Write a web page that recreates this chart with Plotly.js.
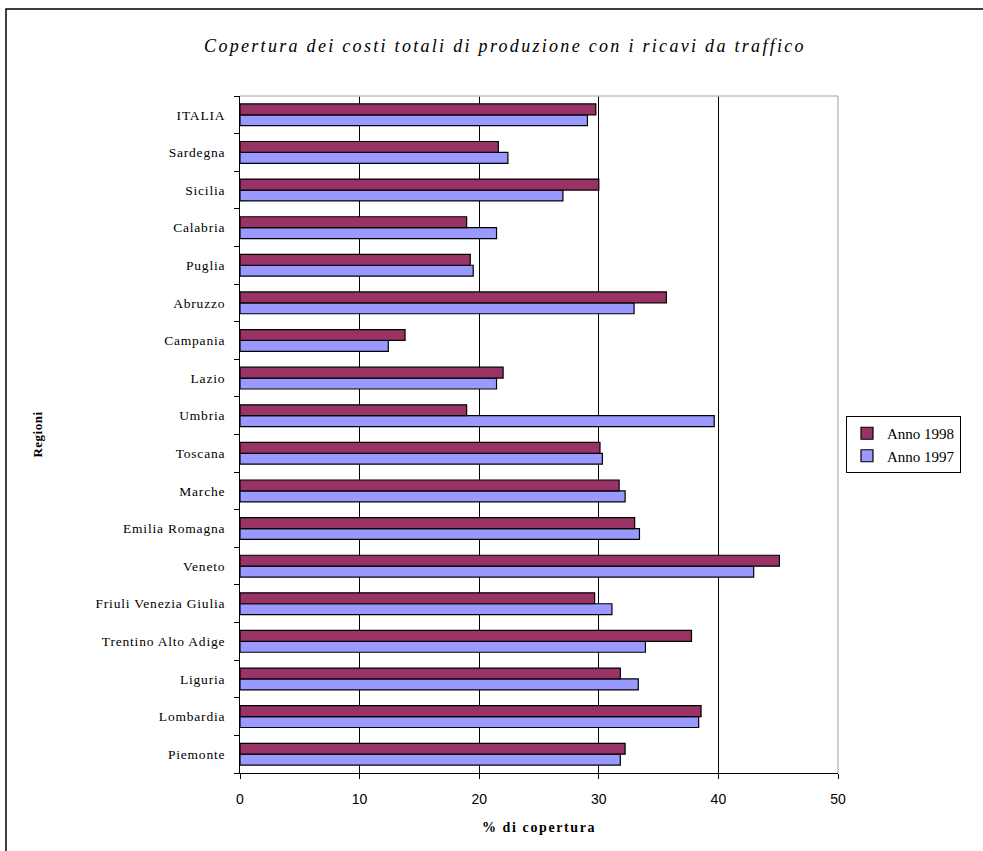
<!DOCTYPE html>
<html>
<head>
<meta charset="utf-8">
<script src="https://cdn.plot.ly/plotly-3.0.1.min.js"></script>
<style>
  body { margin: 0; background: #fff; }
  #chart { width: 983px; height: 851px; }
  #chart .gtitle { letter-spacing: 2.3px; }
  #chart .ytick text { letter-spacing: 0.8px; }
  #chart .xtitle { letter-spacing: 1.6px; }
  #chart .ytitle { letter-spacing: 0.5px; }
</style>
</head>
<body>
<div id="chart"></div>
<script>
// Categories from bottom to top
const regions = [
  "Piemonte", "Lombardia", "Liguria", "Trentino Alto Adige", "Friuli Venezia Giulia",
  "Veneto", "Emilia Romagna", "Marche", "Toscana", "Umbria", "Lazio", "Campania",
  "Abruzzo", "Puglia", "Calabria", "Sicilia", "Sardegna", "ITALIA"
];
const anno1997 = [
  31.8, 38.35, 33.3, 33.9, 31.1,
  42.95, 33.4, 32.2, 30.3, 39.65, 21.45, 12.4,
  32.95, 19.5, 21.45, 27.0, 22.4, 29.05
];
const anno1998 = [
  32.2, 38.55, 31.8, 37.75, 29.65,
  45.1, 33.0, 31.7, 30.1, 18.95, 22.0, 13.8,
  35.65, 19.25, 18.95, 30.0, 21.6, 29.75
];
const xTicks = [0, 10, 20, 30, 40, 50];

const serif = "Liberation Serif, Times New Roman, serif";
const sans = "Liberation Sans, Arial, sans-serif";

const traces = [
  {
    type: "bar", orientation: "h", name: "Anno 1997",
    y: regions, x: anno1997,
    marker: { color: "#9999FF", line: { color: "#000000", width: 1.2 } },
    hoverinfo: "x+y"
  },
  {
    type: "bar", orientation: "h", name: "Anno 1998",
    y: regions, x: anno1998,
    marker: { color: "#993366", line: { color: "#000000", width: 1.2 } },
    hoverinfo: "x+y"
  }
];

function px2x(px) { return (px - 240) / 598; }
function py2y(py) { return (773 - py) / 677; }

const layout = {
  width: 983, height: 851,
  margin: { l: 240, r: 145, t: 96, b: 78, autoexpand: false },
  paper_bgcolor: "#ffffff", plot_bgcolor: "#ffffff",
  barmode: "group", bargap: 0.42, bargroupgap: 0,
  showlegend: true,
  title: {
    text: "Copertura dei costi totali di produzione con i ricavi da traffico",
    font: { family: serif, size: 18, color: "#000", style: "italic" },
    xref: "container", x: 505 / 983, xanchor: "center",
    yref: "container", y: 1 - 46 / 851, yanchor: "middle"
  },
  xaxis: {
    range: [0, 50], tickvals: xTicks, ticktext: xTicks.map(String),
    showgrid: true, gridcolor: "#000000", gridwidth: 1,
    zeroline: false, showline: true, linecolor: "#000000", linewidth: 1,
    ticks: "outside", ticklen: 5, tickcolor: "#000000", tickwidth: 1,
    ticklabelstandoff: 8,
    tickfont: { family: sans, size: 14, color: "#000" },
    title: { text: "% di copertura", font: { family: serif, size: 14, color: "#000", weight: "bold" }, standoff: 16 },
    fixedrange: true
  },
  yaxis: {
    type: "category",
    showgrid: false, zeroline: false,
    showline: true, linecolor: "#000000", linewidth: 1,
    ticks: "outside", tickson: "boundaries", ticklen: 5, tickcolor: "#000000", tickwidth: 1,
    ticklabelstandoff: 11,
    tickfont: { family: serif, size: 13.5, color: "#000" },
    title: { text: "Regioni", font: { family: serif, size: 13, color: "#000", weight: "bold" }, standoff: 66 },
    fixedrange: true
  },
  legend: {
    x: px2x(846), xanchor: "left", y: py2y(416), yanchor: "top",
    traceorder: "reversed",
    bgcolor: "#ffffff", bordercolor: "#000000", borderwidth: 1,
    font: { family: serif, size: 15, color: "#000" },
    itemwidth: 30,
    itemclick: false, itemdoubleclick: false
  },
  shapes: [
    // outer chart frame
    { type: "rect", xref: "paper", yref: "paper",
      x0: px2x(6), x1: px2x(1010), y0: py2y(900), y1: py2y(9),
      line: { color: "#000000", width: 1.5 }, fillcolor: "rgba(0,0,0,0)", layer: "below" },
    // plot area top and right edges (light gray)
    { type: "line", xref: "paper", yref: "paper", x0: 0, x1: 1, y0: 1, y1: 1,
      line: { color: "#C0C0C0", width: 1.5 }, layer: "above" },
    { type: "line", xref: "paper", yref: "paper", x0: 1, x1: 1, y0: 0, y1: 1,
      line: { color: "#C0C0C0", width: 1.5 }, layer: "above" }
  ]
};

Plotly.newPlot("chart", traces, layout, { displayModeBar: false });
</script>
</body>
</html>
